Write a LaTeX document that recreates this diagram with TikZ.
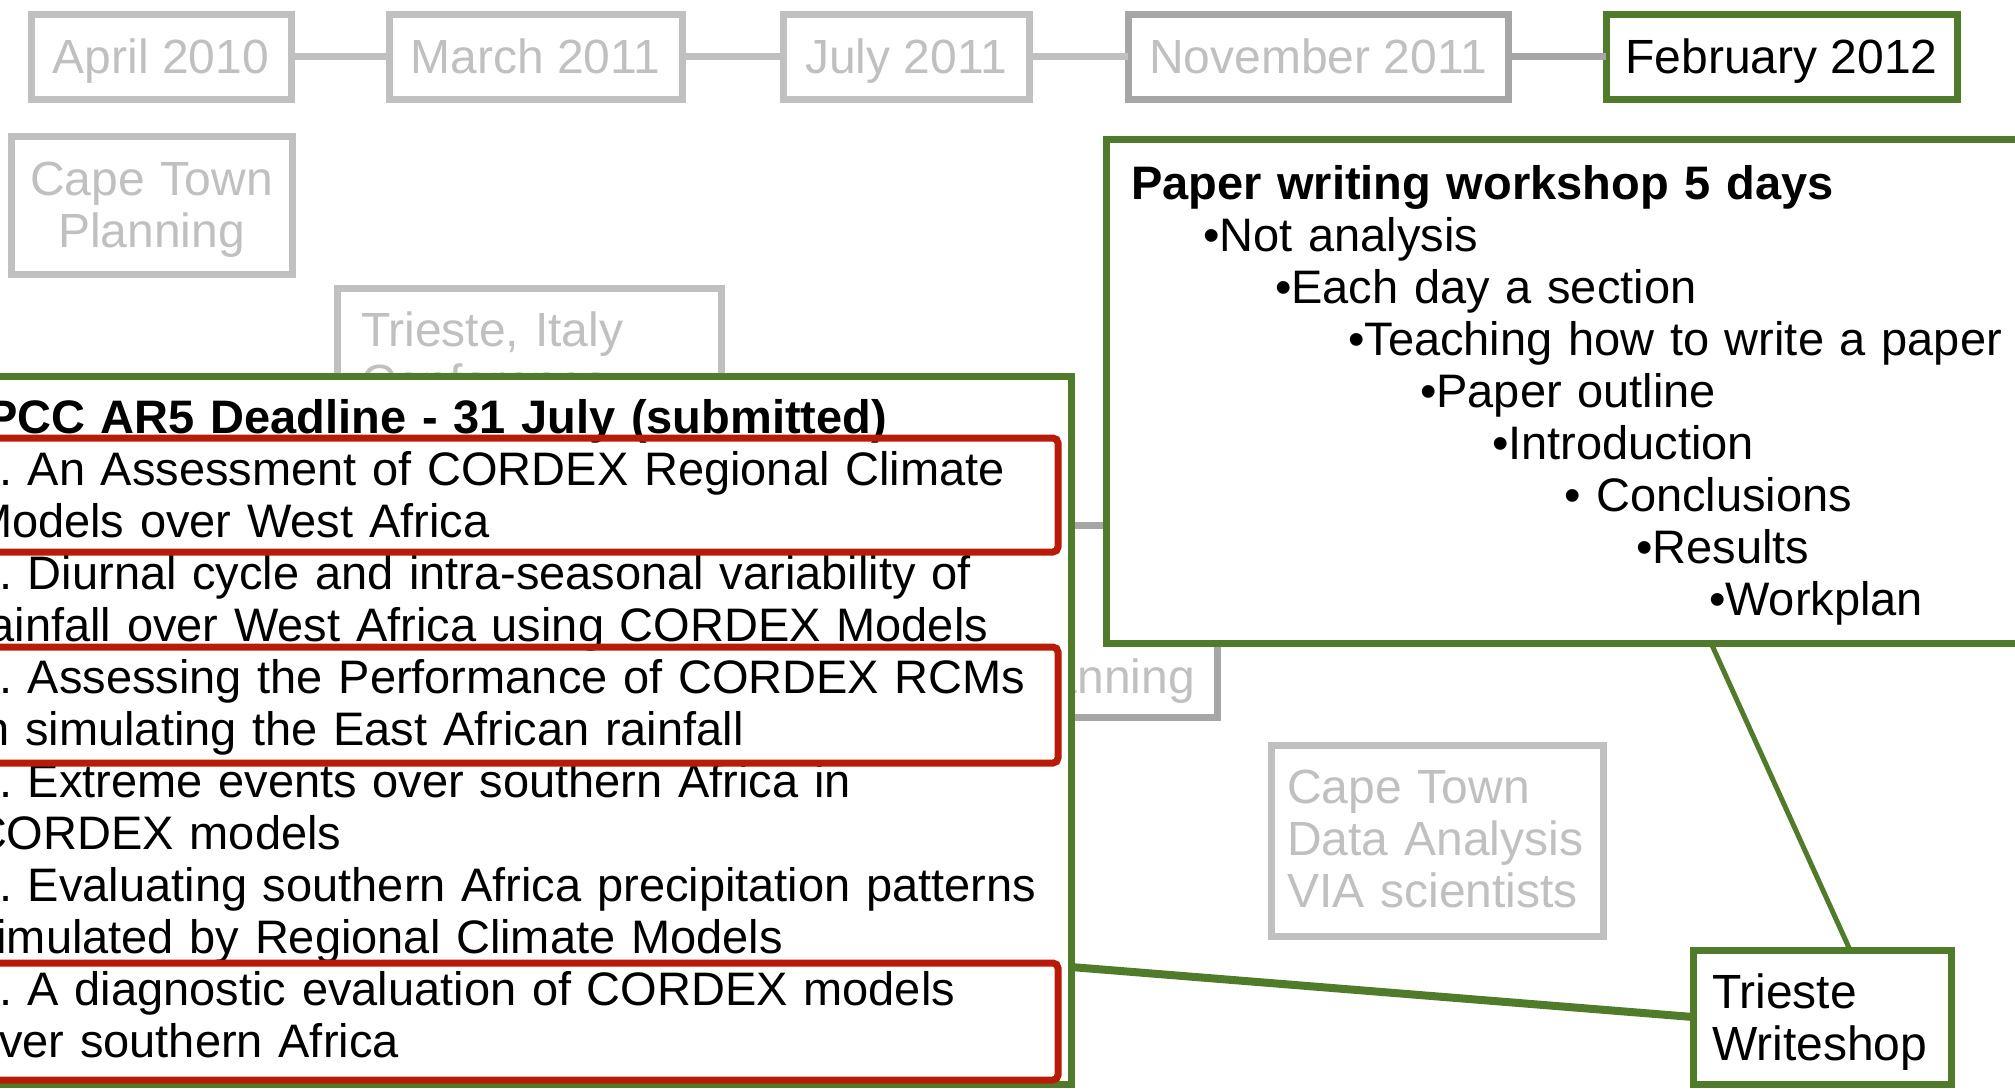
\documentclass[tikz,border=0pt]{standalone}
\usepackage{fontspec}
\setmainfont{Liberation Sans}
\usepackage{xcolor}
\usepackage{tikz}
\definecolor{lightgrey}{RGB}{192,192,192}
\definecolor{midgrey}{RGB}{166,166,166}
\definecolor{leafgreen}{RGB}{79,123,42}
\definecolor{brickred}{RGB}{184,28,8}
\frenchspacing
\hyphenpenalty=10000

\begin{document}
\begin{tikzpicture}[
    x=1pt, y=-1pt,
    font=\fontsize{48}{52}\selectfont,
    datebox/.style={rectangle, draw=lightgrey, text=lightgrey, line width=7pt, minimum height=85pt, inner sep=0pt, outer sep=0pt, text height=34pt, text depth=0pt},
    textbox/.style={rectangle, draw=lightgrey, fill=white, text=lightgrey, line width=7pt, outer sep=0pt, anchor=north west, align=left, text height=34pt},
    greenbox/.style={textbox, draw=leafgreen, text=black},
    link/.style={draw=lightgrey, line width=7.5pt},
    redframe/.style={draw=brickred, line width=7pt, rounded corners=5pt}
]
    \useasboundingbox (0,0) rectangle (2015,1088);
    \clip (0,0) rectangle (2015,1088);

    \node[datebox, minimum width=260pt] (apr) at (161,56.5) {April 2010};
    \node[datebox, minimum width=293pt] (mar) at (535.5,56.5) {March 2011};
    \node[datebox, minimum width=246pt] (jul) at (906,56.5) {July 2011};
    \node[datebox, draw=midgrey, minimum width=380pt] (nov) at (1318,56.5) {November 2011};
    \node[datebox, draw=leafgreen, text=black, minimum width=351pt] (feb) at (1781.5,56.5) {February 2012};

    \draw[link] (apr) -- (mar);
    \draw[link] (mar) -- (jul);
    \draw[link] (jul) -- (nov);
    \draw[link, draw=midgrey] (nov) -- (feb);

    \node[textbox, align=center, text width=250pt, inner xsep=15.5pt, inner ysep=25pt, text depth=54pt] (ctplan) at (11,136) {Cape Town\\Planning};
    \node[textbox, text width=336pt, inner xsep=24pt, inner ysep=24pt, text depth=100pt] (conf) at (337,288) {Trieste, Italy\\Conference};
    \node[textbox, draw=midgrey, anchor=south east, align=right, text width=356pt, inner xsep=22pt, inner ysep=24pt, text height=144pt, text depth=0pt] (plan) at (1217,717) {Planning};
    \node[textbox, text width=300pt, inner xsep=16pt, inner ysep=24pt, text depth=109pt] (ctdata) at (1271,745) {Cape Town\\Data Analysis\\VIA scientists};

    \node[greenbox, font=\fontsize{47}{52}\selectfont, text width=1096pt, inner xsep=2pt, inner ysep=23pt, text depth=628pt] (ipcc) at (-29,376) {\textbf{IPCC AR5 Deadline - 31 July (submitted)}\\
        1. An Assessment of CORDEX Regional Climate\\
        Models over West Africa\\
        2. Diurnal cycle and intra-seasonal variability of\\
        rainfall over West Africa using CORDEX Models\\
        3. Assessing the Performance of CORDEX RCMs\\
        in simulating the East African rainfall\\
        4. Extreme events over southern Africa in\\
        CORDEX models\\
        5. Evaluating southern Africa precipitation patterns\\
        simulated by Regional Climate Models\\
        6. A diagnostic evaluation of CORDEX models\\
        over southern Africa};
    \draw[redframe] (-30,438) rectangle (1058,552);
    \draw[redframe] (-30,647) rectangle (1058,763);
    \draw[redframe] (-30,963) rectangle (1058,1080);

    \node[greenbox, font=\fontsize{47}{52}\selectfont, text width=960pt, inner xsep=25pt, inner ysep=26pt, text depth=418pt] (paper) at (1106,139) {\textbf{Paper writing workshop 5 days}\\
        \hspace*{72pt}•Not analysis\\
        \hspace*{144pt}•Each day a section\\
        \hspace*{217pt}•Teaching how to write a paper\\
        \hspace*{289pt}•Paper outline\\
        \hspace*{361pt}•Introduction\\
        \hspace*{433pt}• Conclusions\\
        \hspace*{505pt}•Results\\
        \hspace*{578pt}•Workplan};

    \node[greenbox, text width=220pt, inner xsep=19pt, inner ysep=24pt, text depth=52pt] (shop) at (1693,950) {Trieste\\Writeshop};

    \draw[leafgreen, line width=8pt] (ipcc.east |- 0,967) -- (shop.west);
    \draw[leafgreen, line width=5pt] (paper.south -| 1711,0) -- (shop.north -| 1850,0);
\end{tikzpicture}
\end{document}
